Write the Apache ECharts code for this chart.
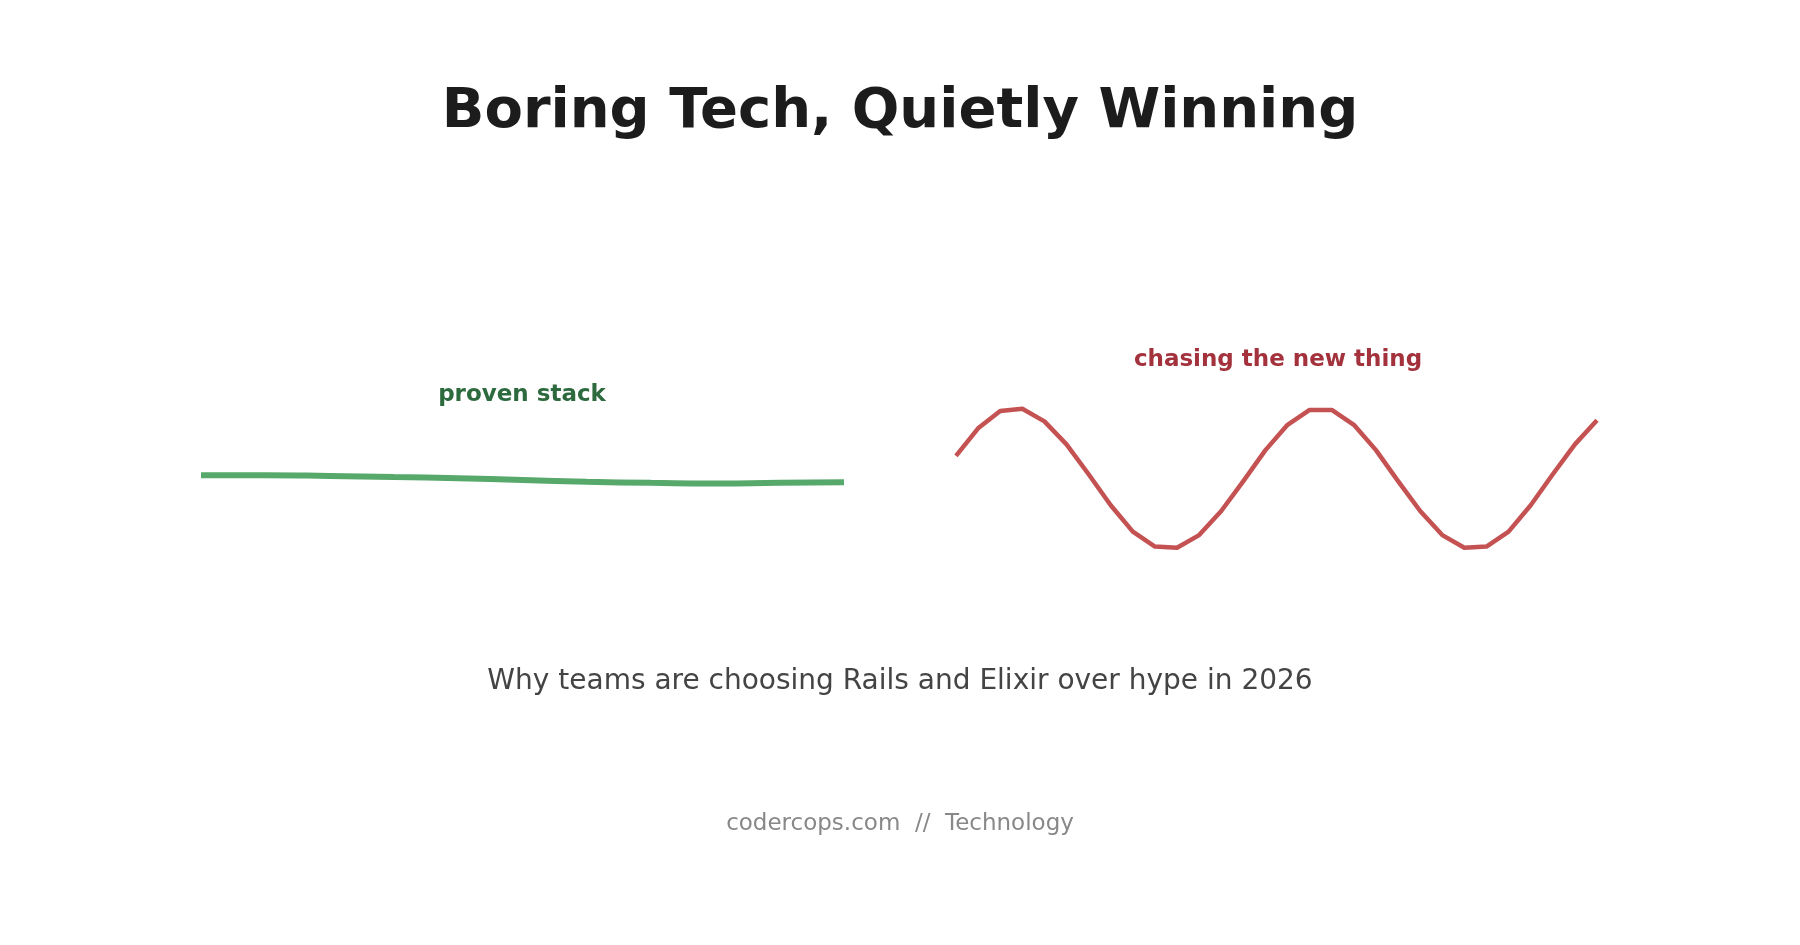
<!DOCTYPE html>
<html><head><meta charset="utf-8">
<script src="https://cdn.jsdelivr.net/npm/echarts@6/dist/echarts.min.js"></script>
<style>html,body{margin:0;padding:0;background:#fff}#c{width:1800px;height:945px}</style>
</head><body><div id="c"></div>
<script>
const titleText = "Boring Tech, Quietly Winning";
const subtitleText = "Why teams are choosing Rails and Elixir over hype in 2026";
const footerText = "codercops.com  //  Technology";
const provenLabel = "proven stack";
const chasingLabel = "chasing the new thing";
const provenValues = [86,86,85.5,84.5,83.5,82,80.5,79.5,79,79.5,80];
const chasingValues = [103,127,142,144,133,113,87,60,37,24,23,34,55,81,108,130,143,143,130,108,81,55,34,23,24,37,60,87,113,134];

const chart = echarts.init(document.getElementById('c'));
const yAx = i => ({gridIndex:i, type:'value', min:-323, max:500, show:false});
const xAx = (i,n) => ({gridIndex:i, type:'category', data:[...Array(n).keys()], boundaryGap:false, show:false});
chart.setOption({
  animation:false,
  backgroundColor:'#fff',
  grid:[{left:201, width:643, top:0, height:945},{left:956, width:641, top:0, height:945}],
  xAxis:[xAx(0,provenValues.length), xAx(1,chasingValues.length)],
  yAxis:[yAx(0), yAx(1)],
  series:[
    {type:'line', xAxisIndex:0, yAxisIndex:0, data:provenValues, smooth:0.6, symbol:'none', lineStyle:{color:'#57a86b', width:6}},
    {type:'line', xAxisIndex:1, yAxisIndex:1, data:chasingValues, smooth:false, symbol:'none', lineStyle:{color:'#c55252', width:4.5, join:'round'}}
  ],
  graphic:[
    {type:'text', left:'center', top:84, style:{text:titleText, font:'bold 56px "DejaVu Sans"', fill:'#1c1c1c'}},
    {type:'text', x:522, y:395, style:{text:provenLabel, font:'bold 23px "DejaVu Sans"', fill:'#2d6a3e', align:'center', verticalAlign:'middle'}},
    {type:'text', x:1278, y:360, style:{text:chasingLabel, font:'bold 23px "DejaVu Sans"', fill:'#a3323d', align:'center', verticalAlign:'middle'}},
    {type:'text', x:900, y:682, style:{text:subtitleText, font:'28px "DejaVu Sans"', fill:'#444', align:'center', verticalAlign:'middle'}},
    {type:'text', x:900, y:824, style:{text:footerText, font:'23px "DejaVu Sans"', fill:'#888', align:'center', verticalAlign:'middle'}}
  ]
});
</script></body></html>
